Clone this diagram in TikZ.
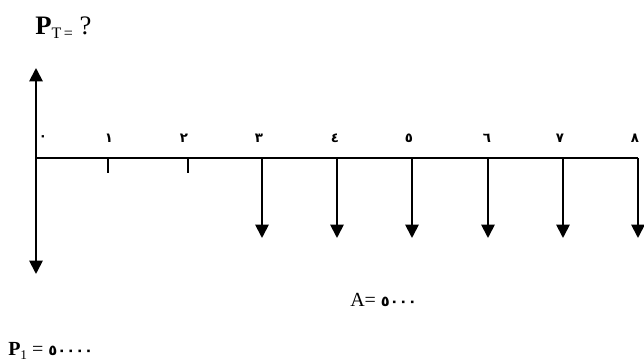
\documentclass[tikz,border=0pt]{standalone}
\usepackage{fontspec}
\setmainfont{Liberation Serif}
\newfontfamily\arabicfont[Script=Arabic]{DejaVu Sans}
\usetikzlibrary{arrows.meta}
\begin{document}
\begin{tikzpicture}[x=0.75pt,y=-0.75pt,
  axis/.style={line width=1.8pt},
  cash/.style={line width=1.4pt,-{Triangle[width=10pt,length=10pt]}},
  tick/.style={line width=1.4pt},
  num/.style={font=\arabicfont\fontsize{10}{10}\selectfont\bfseries,inner sep=0pt},
  lbl/.style={font=\fontsize{15}{15}\selectfont,inner sep=0pt}]
\useasboundingbox (0,0) rectangle (644,363);
% axis points
\coordinate (t0) at (36,158);
\coordinate (t1) at (108,158);
\coordinate (t2) at (188,158);
\coordinate (t3) at (262,158);
\coordinate (t4) at (337,158);
\coordinate (t5) at (412,158);
\coordinate (t6) at (488,158);
\coordinate (t7) at (563,158);
\coordinate (t8) at (638,158);
\coordinate (top) at (36,68);
\coordinate (bot) at (36,274);
\draw[axis] (t0) -- (t8);
\draw[cash] (t0) -- (top);
\draw[cash] (t0) -- (bot);
\draw[tick] (t1) -- ++(0,15);
\draw[tick] (t2) -- ++(0,15);
\foreach \i in {3,...,8} {
  \draw[cash] (t\i) -- ++(0,80);
}
% period numbers
\node[num] (n0) at (43,138) {٠};
\node[num] (n1) at (109,138) {١};
\node[num] (n2) at (184,138) {٢};
\node[num] (n3) at (259,138) {٣};
\node[num] (n4) at (335,138) {٤};
\node[num] (n5) at (409,138) {٥};
\node[num] (n6) at (487,138) {٦};
\node[num] (n7) at (560,138) {٧};
\node[num] (n8) at (635,138) {٨};
% labels
\node[lbl,anchor=west] (pt) at (35,28) {\fontsize{20}{20}\selectfont\textbf{P}\raisebox{-0.35ex}{\fontsize{12}{12}\selectfont T\,=}\ ?};
\node[lbl,anchor=west] (a) at (350,300) {A= {\arabicfont\fontsize{11}{11}\selectfont\bfseries ٥٠٠٠}};
\node[lbl,anchor=west] (p1) at (8,351) {\textbf{P}\raisebox{-0.4ex}{\fontsize{10}{10}\selectfont 1}\ = {\arabicfont\fontsize{11}{11}\selectfont\bfseries ٥٠٠٠٠}};
\end{tikzpicture}
\end{document}
